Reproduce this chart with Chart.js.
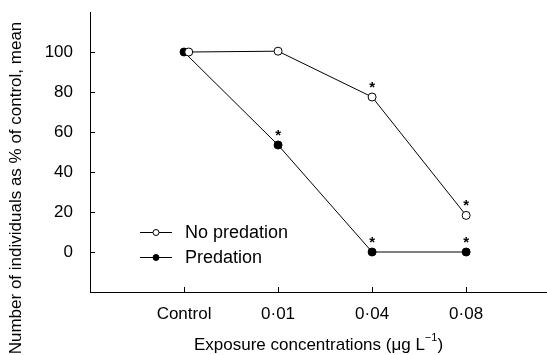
<!DOCTYPE html>
<html>
<head>
<meta charset="utf-8">
<script src="https://cdn.jsdelivr.net/npm/chart.js@4.4.1/dist/chart.umd.min.js"></script>
<style>
  html, body { margin: 0; padding: 0; background: #fff; }
  canvas { display: block; }
</style>
</head>
<body>
<canvas id="exposureChart" width="547" height="355"></canvas>
<script>
const categories = ['Control', '0·01', '0·04', '0·08'];
const categoryPositions = [1, 2, 3, 4];
// open circle at Control is nudged right in the original so both markers show
const noPredationPositions = [1.05, 2, 3, 4];
const noPredation = [100, 100.4, 77.5, 18.3];
const predation = [100, 53.5, 0, 0];
const noPredationSignificant = [false, false, true, true];
const predationSignificant = [false, true, true, true];
const yTicks = [0, 20, 40, 60, 80, 100];

const FONT = "'Liberation Sans', Arial, sans-serif";
const INK = '#000';

function toPoints(xs, ys) {
  return ys.map((y, i) => ({ x: xs[i], y }));
}

function noEdgePadding(scale) {
  scale.paddingTop = 0;
  scale.paddingBottom = 0;
  scale.paddingLeft = 0;
  scale.paddingRight = 0;
}

const decorations = {
  id: 'decorations',
  afterDatasetsDraw(chart) {
    const { ctx, scales: { x, y } } = chart;
    ctx.save();
    ctx.strokeStyle = INK;
    ctx.fillStyle = INK;
    ctx.lineWidth = 1;

    // inward tick marks
    ctx.beginPath();
    yTicks.forEach(v => {
      const py = Math.round(y.getPixelForValue(v)) + 0.5;
      ctx.moveTo(x.left, py);
      ctx.lineTo(x.left + 5, py);
    });
    categoryPositions.forEach(v => {
      const px = Math.round(x.getPixelForValue(v)) + 0.5;
      ctx.moveTo(px, y.bottom);
      ctx.lineTo(px, y.bottom - 5);
    });
    ctx.stroke();

    // significance stars
    ctx.font = 'bold 15px ' + FONT;
    ctx.textAlign = 'center';
    ctx.textBaseline = 'alphabetic';
    const stars = (xs, ys, flags) => {
      flags.forEach((flag, i) => {
        if (!flag) return;
        ctx.fillText('*', x.getPixelForValue(xs[i]), y.getPixelForValue(ys[i]) - 5);
      });
    };
    stars(noPredationPositions, noPredation, noPredationSignificant);
    stars(categoryPositions, predation, predationSignificant);

    // legend
    const entries = [
      { label: 'No predation', fill: '#fff', yy: 232 },
      { label: 'Predation', fill: INK, yy: 257 }
    ];
    ctx.font = '18px ' + FONT;
    ctx.textAlign = 'left';
    ctx.textBaseline = 'middle';
    entries.forEach(e => {
      ctx.beginPath();
      ctx.moveTo(140, e.yy + 0.5);
      ctx.lineTo(172, e.yy + 0.5);
      ctx.stroke();
      ctx.beginPath();
      ctx.arc(156, e.yy + 0.5, 3, 0, Math.PI * 2);
      ctx.fillStyle = e.fill;
      ctx.fill();
      ctx.stroke();
      ctx.fillStyle = INK;
      ctx.fillText(e.label, 185, e.yy + 1);
    });

    // x axis title with superscript
    const main = 'Exposure concentrations (μg L';
    const sup = '−1';
    const tail = ')';
    ctx.font = '17px ' + FONT;
    const wMain = ctx.measureText(main).width;
    const wTail = ctx.measureText(tail).width;
    ctx.font = '11px ' + FONT;
    const wSup = ctx.measureText(sup).width;
    let tx = (x.left + x.right) / 2 - (wMain + wSup + wTail) / 2;
    const ty = 345;
    ctx.font = '17px ' + FONT;
    ctx.fillText(main, tx, ty);
    tx += wMain;
    ctx.font = '11px ' + FONT;
    ctx.fillText(sup, tx, ty - 7);
    tx += wSup;
    ctx.font = '17px ' + FONT;
    ctx.fillText(tail, tx, ty);

    // y axis title
    ctx.translate(16, 188);
    ctx.rotate(-Math.PI / 2);
    ctx.textAlign = 'center';
    ctx.fillText('Number of individuals as % of control, mean', 0, 0);
    ctx.restore();
  }
};

new Chart(document.getElementById('exposureChart'), {
  type: 'line',
  data: {
    datasets: [
      {
        label: 'No predation',
        data: toPoints(noPredationPositions, noPredation),
        borderColor: INK,
        borderWidth: 1,
        pointRadius: 4,
        pointBackgroundColor: '#fff',
        pointBorderColor: INK,
        pointBorderWidth: 1
      },
      {
        label: 'Predation',
        data: toPoints(categoryPositions, predation),
        borderColor: INK,
        borderWidth: 1,
        pointRadius: 4,
        pointBackgroundColor: INK,
        pointBorderColor: INK,
        pointBorderWidth: 1
      }
    ]
  },
  options: {
    responsive: false,
    animation: false,
    devicePixelRatio: 1,
    layout: { autoPadding: false, padding: { top: 12, right: 0, left: 0, bottom: 0 } },
    plugins: {
      legend: { display: false },
      tooltip: { enabled: false }
    },
    scales: {
      x: {
        type: 'linear',
        min: 0,
        max: 4.86,
        afterBuildTicks: scale => { scale.ticks = categoryPositions.map(v => ({ value: v })); },
        afterFit: scale => { scale.height = 63; noEdgePadding(scale); },
        grid: { display: false, drawTicks: false },
        border: { color: INK, width: 1 },
        ticks: {
          color: INK,
          font: { family: FONT, size: 17 },
          padding: 12,
          maxRotation: 0,
          callback: v => categories[categoryPositions.indexOf(v)] ?? ''
        }
      },
      y: {
        min: -20,
        max: 120,
        afterBuildTicks: scale => { scale.ticks = yTicks.map(v => ({ value: v })); },
        afterFit: scale => { scale.width = 90; noEdgePadding(scale); },
        grid: { display: false, drawTicks: false },
        border: { color: INK, width: 1 },
        ticks: {
          color: INK,
          font: { family: FONT, size: 17 },
          padding: 17
        }
      }
    }
  },
  plugins: [decorations]
});
</script>
</body>
</html>
